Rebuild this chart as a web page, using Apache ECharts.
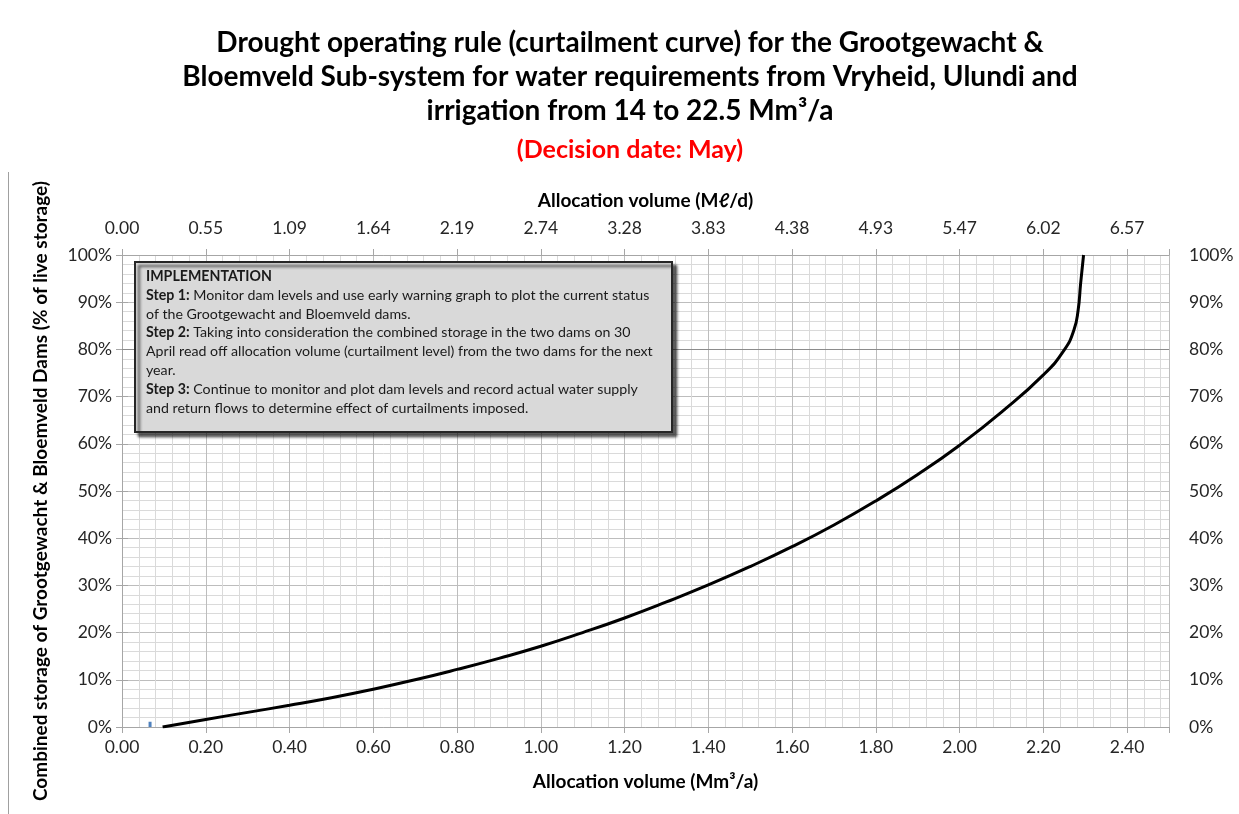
<!DOCTYPE html>
<html>
<head>
<meta charset="utf-8">
<title>Drought operating rule - Grootgewacht & Bloemveld</title>
<script src="https://cdn.jsdelivr.net/npm/echarts@6.0.0/dist/echarts.min.js"></script>
<style>
  html, body { margin: 0; padding: 0; background: #fff; }
  #chart { width: 1239px; height: 814px; }
</style>
</head>
<body>
<div id="chart"></div>
<script>
// curtailment curve: allocation volume (Mm3/a) vs combined storage (%)
const curveX = [0.097, 0.2, 0.3, 0.4, 0.5, 0.6, 0.7, 0.8, 0.9, 1.0, 1.1, 1.2, 1.3, 1.4, 1.5, 1.6, 1.7, 1.8, 1.9, 2.0, 2.1, 2.2, 2.25, 2.273, 2.283, 2.289, 2.296]
const curveY = [0, 1.6, 3.1, 4.6, 6.2, 8.0, 10.0, 12.2, 14.55, 17.1, 20.0, 23.1, 26.5, 30.1, 34.0, 38.2, 42.8, 47.9, 53.5, 59.7, 66.7, 74.6, 79.9, 84.1, 88.3, 94.0, 100]

// small blue marker near the origin
const markerX = [0.067, 0.067]
const markerY = [0, 1.1]

// top axis labels (Ml/d), one per 0.2 Mm3/a tick
const topLabels = ['0.00', '0.55', '1.09', '1.64', '2.19', '2.74', '3.28', '3.83', '4.38', '4.93', '5.47', '6.02', '6.57']

const warnLevel = 80

const font = 'Lato, "Open Sans", sans-serif'
const majorGrid = '#bdbdbd'
const minorGrid = '#dadada'
const labelColor = '#262626'

const boxText = [
  '{h|IMPLEMENTATION}',
  '{b|Step 1:} Monitor dam levels and use early warning graph to plot the current status',
  'of the Grootgewacht and Bloemveld dams.',
  '{b|Step 2:} Taking into consideration the combined storage in the two dams on 30',
  'April read off allocation volume (curtailment level) from the two dams for the next',
  'year.',
  '{b|Step 3:} Continue to monitor and plot dam levels and record actual water supply',
  'and return flows to determine effect of curtailments imposed.'
].join('\n')

function isMajor(v) {
  return Math.abs(v / 0.2 - Math.round(v / 0.2)) < 1e-6
}

const chart = echarts.init(document.getElementById('chart'), null, { renderer: 'canvas' })

const nameStyle = { fontFamily: font, fontSize: 19, fontWeight: 'bold', color: '#000' }

chart.setOption({
  animation: false,
  backgroundColor: '#fff',
  textStyle: { fontFamily: font },
  title: {
    text: 'Drought operating rule (curtailment curve) for the Grootgewacht &\nBloemveld Sub-system for water requirements from Vryheid, Ulundi and\nirrigation from 14 to 22.5 Mm³/a',
    subtext: '(Decision date: May)',
    left: 625,
    top: 21,
    textAlign: 'center',
    itemGap: 8,
    textStyle: { fontFamily: font, fontSize: 28, fontWeight: 'bold', color: '#000', lineHeight: 34 },
    subtextStyle: { fontFamily: font, fontSize: 25, fontWeight: 'bold', color: '#ff0000', lineHeight: 28 }
  },
  grid: { left: 122, right: 70, top: 255, bottom: 87 },
  xAxis: [{
    // minor vertical grid every 0.04
    type: 'value', min: 0, max: 2.5, interval: 0.04, position: 'bottom',
    axisLine: { show: false }, axisTick: { show: false }, axisLabel: { show: false },
    splitLine: { show: true, lineStyle: { color: minorGrid, width: 1 } }
  }, {
    type: 'value', min: 0, max: 2.5, interval: 0.2, position: 'bottom',
    name: 'Allocation volume (Mm³/a)',
    nameLocation: 'middle', nameGap: 45,
    nameTextStyle: nameStyle,
    axisLine: { show: true, lineStyle: { color: '#a6a6a6' } },
    axisTick: { show: true, length: 6, lineStyle: { color: '#a6a6a6' } },
    axisLabel: {
      margin: 11, fontSize: 17.5, color: labelColor, fontFamily: font,
      formatter: v => isMajor(v) ? v.toFixed(2) : ''
    },
    splitLine: { show: true, lineStyle: { color: majorGrid, width: 1 } }
  }, {
    type: 'value', min: 0, max: 2.5, interval: 0.2, position: 'top',
    name: 'Allocation volume (Mℓ/d)',
    nameLocation: 'middle', nameGap: 45,
    nameTextStyle: nameStyle,
    axisLine: { show: true, lineStyle: { color: '#a6a6a6' } },
    axisTick: { show: true, length: 6, lineStyle: { color: '#a6a6a6' } },
    axisLabel: {
      margin: 18, fontSize: 17.5, color: labelColor, fontFamily: font,
      formatter: v => isMajor(v) ? (topLabels[Math.round(v / 0.2)] || '') : ''
    },
    splitLine: { show: false }
  }],
  yAxis: [{
    type: 'value', min: 0, max: 100, interval: 10, position: 'left',
    name: 'Combined storage of Grootgewacht & Bloemveld Dams (% of live storage)',
    nameLocation: 'middle', nameGap: 72,
    nameTextStyle: nameStyle,
    axisLine: { show: true, lineStyle: { color: '#a6a6a6' } },
    axisTick: { show: true, length: 6, lineStyle: { color: '#a6a6a6' } },
    axisLabel: { margin: 10, fontSize: 17.5, color: labelColor, fontFamily: font, formatter: '{value}%' },
    splitLine: { show: true, lineStyle: { color: majorGrid, width: 1 } },
    minorTick: { show: false, splitNumber: 5 },
    minorSplitLine: { show: true, lineStyle: { color: minorGrid, width: 1 } }
  }, {
    type: 'value', min: 0, max: 100, interval: 10, position: 'right',
    axisLine: { show: true, lineStyle: { color: '#a6a6a6' } },
    axisTick: { show: true, length: 6, lineStyle: { color: '#a6a6a6' } },
    axisLabel: { margin: 20, fontSize: 17.5, color: labelColor, fontFamily: font, formatter: '{value}%' },
    splitLine: { show: false }
  }],
  series: [{
    name: 'Curtailment curve',
    type: 'line',
    xAxisIndex: 1,
    yAxisIndex: 0,
    data: curveX.map((x, i) => [x, curveY[i]]),
    smooth: 0.5,
    showSymbol: false,
    lineStyle: { color: '#000', width: 3 },
    z: 5,
    markLine: {
      silent: true,
      symbol: 'none',
      label: { show: false },
      lineStyle: { color: '#8c8c8c', width: 1, type: 'solid' },
      data: [{ yAxis: warnLevel }]
    }
  }, {
    name: 'Marker',
    type: 'line',
    xAxisIndex: 1,
    yAxisIndex: 0,
    data: markerX.map((x, i) => [x, markerY[i]]),
    showSymbol: false,
    lineStyle: { color: '#4f81bd', width: 3 },
    z: 4
  }],
  graphic: [{
    type: 'line',
    shape: { x1: 8.5, y1: 172, x2: 8.5, y2: 814 },
    style: { stroke: '#a0a0a0', lineWidth: 1 }
  }, {
    type: 'rect',
    z: 20,
    shape: { x: 135, y: 262, width: 537, height: 170 },
    style: {
      fill: '#d9d9d9', stroke: '#262626', lineWidth: 2,
      shadowBlur: 3, shadowOffsetX: 4, shadowOffsetY: 4, shadowColor: 'rgba(0,0,0,0.65)'
    }
  }, {
    type: 'text',
    z: 21,
    left: 146,
    top: 267,
    style: {
      text: boxText,
      fontFamily: font,
      fontSize: 14.2,
      lineHeight: 18.8,
      fill: '#1a1a1a',
      rich: {
        h: { fontFamily: font, fontSize: 14.2, fontWeight: 'bold', lineHeight: 18.8, fill: '#1a1a1a' },
        b: { fontFamily: font, fontSize: 14.2, fontWeight: 'bold', lineHeight: 18.8, fill: '#1a1a1a' }
      }
    }
  }]
})
</script>
</body>
</html>
